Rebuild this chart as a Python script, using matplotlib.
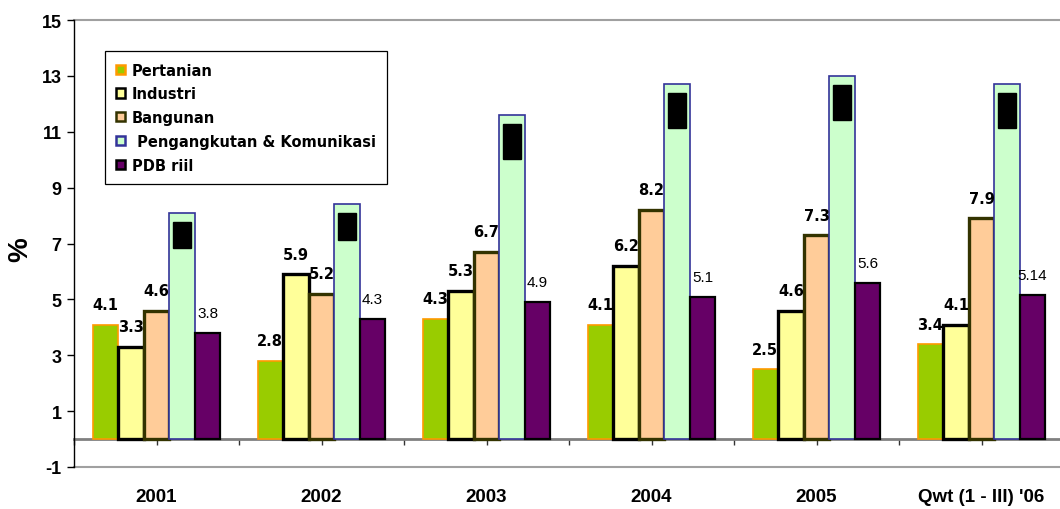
import matplotlib
matplotlib.use("Agg")
import matplotlib.pyplot as plt
from matplotlib.patches import Patch
import numpy as np

plt.rcParams['font.family'] = ['Liberation Sans', 'DejaVu Sans']

categories = ["2001", "2002", "2003", "2004", "2005", "Qwt (1 - III) '06"]
series_names = ["Pertanian", "Industri", "Bangunan", " Pengangkutan & Komunikasi", "PDB riil"]
pertanian = [4.1, 2.8, 4.3, 4.1, 2.5, 3.4]
industri = [3.3, 5.9, 5.3, 6.2, 4.6, 4.1]
bangunan = [4.6, 5.2, 6.7, 8.2, 7.3, 7.9]
pengangkutan = [8.1, 8.4, 11.6, 12.7, 13.0, 12.7]
pdb = [3.8, 4.3, 4.9, 5.1, 5.6, 5.14]
pdb_labels = ["3.8", "4.3", "4.9", "5.1", "5.6", "5.14"]
yticks = [-1, 1, 3, 5, 7, 9, 11, 13, 15]

data = [pertanian, industri, bangunan, pengangkutan, pdb]
faces = ["#99CC00", "#FFFF99", "#FFCC99", "#CCFFCC", "#660066"]
edges = ["#FF9900", "#000000", "#333300", "#333399", "#000000"]
lws = [1.2, 2.4, 2.4, 1.2, 1.6]

fig = plt.figure(figsize=(10.6, 5.1), dpi=100)
ax = fig.add_axes([74/1060, 1-468/510, 990/1060, 447/510])
x = np.arange(len(categories))
w = 0.155

for i, (vals, fc, ec, lw) in enumerate(zip(data, faces, edges, lws)):
    xs = x + (i - 2) * w
    ax.bar(xs, vals, width=w, color=fc, edgecolor=ec, linewidth=lw, zorder=3)
    for xi, v, j in zip(xs, vals, range(len(vals))):
        if i in (0, 1, 2):
            ax.annotate(f"{v:.1f}", (xi, v), xytext=(0, 20), textcoords='offset pixels',
                        ha='center', va='center', fontsize=10.5, fontweight='bold',
                        family='DejaVu Sans', zorder=5)
        elif i == 4:
            ax.annotate(pdb_labels[j], (xi, v), xytext=(0, 20), textcoords='offset pixels',
                        ha='center', va='center', fontsize=11, zorder=5)
        else:
            ax.annotate(f"{v:.1f}", (xi, v), xytext=(0, -11), textcoords='offset pixels',
                        ha='center', va='top', rotation=90, fontsize=11.5, fontweight='bold',
                        color='black', zorder=5,
                        bbox=dict(boxstyle='square,pad=0.12', fc='black', ec='black'))

ax.set_xlim(-0.5, 5.5)
ax.set_ylim(-1, 15)
ax.set_yticks(yticks)
ax.set_yticklabels([str(t) for t in yticks], fontsize=13, fontweight='bold')
ax.tick_params(axis='y', direction='out', length=5, width=1, pad=4)

ax.spines['top'].set_visible(False)
ax.spines['right'].set_visible(False)
ax.spines['left'].set_color('black')
ax.spines['left'].set_linewidth(1)
ax.spines['bottom'].set_position(('data', 0))
ax.spines['bottom'].set_color('#808080')
ax.spines['bottom'].set_linewidth(2)
ax.spines['bottom'].set_zorder(2)

ax.set_xticks(x)
ax.set_xticks(np.arange(-0.5, 5.6, 1.0), minor=True)
ax.set_xticklabels(categories, fontsize=13.5, fontweight='bold')
ax.tick_params(axis='x', which='major', direction='out', length=4.5, width=1, color='#333333', pad=31)
ax.tick_params(axis='x', which='minor', direction='out', length=4.5, width=1, color='#333333')

ax.axhline(15, color='#A0A0A0', lw=1.5, zorder=1, clip_on=False)
ax.axhline(-1, color='#A0A0A0', lw=1.5, zorder=1, clip_on=False)

ax.set_ylabel('%', fontsize=20, fontweight='bold')
ax.yaxis.set_label_coords(-0.0414, 0.488)

handles = [Patch(facecolor=fc, edgecolor=ec, linewidth=1.8) for fc, ec in zip(faces, edges)]
leg = ax.legend(handles, series_names, loc='upper left', bbox_to_anchor=(0.031, 0.931),
                borderaxespad=0, fancybox=False, edgecolor='black', framealpha=1,
                prop={'weight': 'bold', 'size': 10.5, 'family': 'DejaVu Sans'},
                handlelength=0.6, handleheight=0.6,
                handletextpad=0.45, labelspacing=0.6, borderpad=0.8)
leg.get_frame().set_linewidth(0.9)
leg.set_zorder(6)

fig.savefig('out.png', dpi=100)
